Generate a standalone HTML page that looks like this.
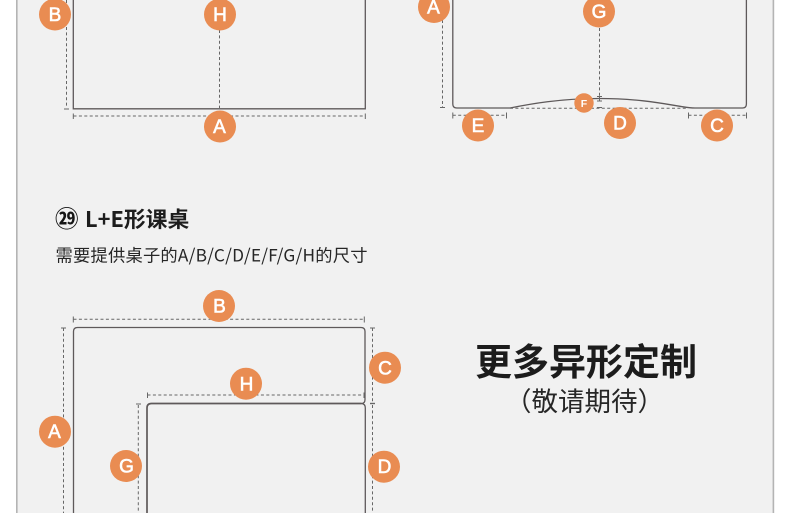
<!DOCTYPE html>
<html>
<head>
<meta charset="utf-8">
<style>
html,body{margin:0;padding:0;background:#fff}
svg{display:block}
.cjk{font-family:"Noto Sans CJK SC","Liberation Sans",sans-serif}
.d{fill:none;stroke:#666;stroke-width:1;stroke-dasharray:3 2.4}
.t{fill:none;stroke:#666;stroke-width:1}
.l{fill:none;stroke:#5e595a;stroke-width:1.3}
.c{fill:#e98c52}
.ltr{fill:#fff;stroke:#fff;stroke-width:.6;font:19px "Liberation Sans",sans-serif;text-anchor:middle}
</style>
</head>
<body>
<svg width="790" height="513" viewBox="0 0 790 513" xmlns="http://www.w3.org/2000/svg">
<rect width="790" height="513" fill="#fff"/>
<rect x="17" y="0" width="756" height="513" fill="#f1f1f1"/>
<rect x="16" y="0" width="1.6" height="513" fill="#b4b4b4"/>
<rect x="772.6" y="0" width="1.6" height="513" fill="#b4b4b4"/>

<!-- Diagram 1 -->
<path class="l" d="M73.3 0V108.8H365.3V0"/>
<path class="d" d="M66.5 0V108"/>
<path class="t" d="M64 109H69"/>
<path class="d" d="M219.5 30V108"/>
<path class="d" d="M73.5 116H365"/>
<path class="t" d="M73.3 113.5V119M365.3 113.5V119"/>
<circle class="c" cx="55" cy="14.5" r="16"/>
<circle class="c" cx="220" cy="14.5" r="16"/>
<circle class="c" cx="220" cy="126.5" r="16"/>
<text class="ltr" x="55" y="21">B</text>
<text class="ltr" x="220" y="21">H</text>
<text class="ltr" x="219.5" y="133">A</text>

<!-- Diagram 2 -->
<path class="l" d="M452.8 0V104Q452.8 108 456.8 108H510C530 104 560 98.5 599 98.5C640 98.5 665 104 683 106.8Q690 108 695 108H742.5Q746.4 108 746.4 104V0"/>
<path class="d" d="M442.5 20V107"/>
<path class="t" d="M440 107.5H445"/>
<path class="d" d="M599.5 28V96"/>
<path class="t" d="M597 96.5H602M597 101H602M597 107.5H602M599.5 96.5V101"/>
<path class="d" d="M510 108.3H688"/>
<path class="d" d="M452.8 115.3H506.5"/>
<path class="d" d="M688.5 115.3H746.5"/>
<path class="t" d="M452.8 112.5V118.5M506.5 112.5V118.5M688.5 112.5V118.5M746.5 112.5V118.5"/>
<circle class="c" cx="434" cy="7" r="16"/>
<circle class="c" cx="599" cy="11.5" r="16"/>
<circle class="c" cx="584" cy="103" r="9.7"/>
<circle class="c" cx="620" cy="123" r="16"/>
<circle class="c" cx="478" cy="125.5" r="16"/>
<circle class="c" cx="717" cy="125.5" r="16"/>
<text class="ltr" x="433.5" y="13.5">A</text>
<text class="ltr" x="599" y="18">G</text>
<text x="584" y="107" style="fill:#fff;font:bold 10.5px 'Liberation Sans',sans-serif;text-anchor:middle">F</text>
<text class="ltr" x="620" y="129.5">D</text>
<text class="ltr" x="478" y="132">E</text>
<text class="ltr" x="717" y="132">C</text>

<!-- Headings -->
<text class="cjk" x="55" y="227" style="font-size:23.5px;fill:#151515;font-weight:700">㉙</text>
<text class="cjk" x="85" y="227" style="font-size:21.8px;font-weight:700;fill:#1d1d1d">L+E形课桌</text>
<text class="cjk" x="55.5" y="261.5" style="font-size:17.3px;fill:#262626" textLength="312" lengthAdjust="spacing">需要提供桌子的A/B/C/D/E/F/G/H的尺寸</text>

<!-- Diagram 3 -->
<path class="l" d="M73.5 513V331.5Q73.5 327.5 77.5 327.5H361Q365 327.5 365 331.5V399.5Q365 403.5 361.5 403.5"/>
<path class="l" style="stroke-width:1.7" d="M361.5 403.5H151.5Q147 403.5 147 408V513"/>
<path class="l" d="M361.5 403.5Q365.3 403.8 365.3 408V513"/>
<path class="d" d="M73.5 319.3H364"/>
<path class="t" d="M73.3 316.5V322.5M364.3 316.5V322.5"/>
<path class="d" d="M63.5 328V513"/>
<path class="t" d="M61 328H66"/>
<path class="d" d="M372.5 328V402"/>
<path class="t" d="M370 328H375"/>
<path class="t" d="M370 403.5H375" style="stroke-width:1.4"/>
<path class="d" d="M372.5 405V513"/>
<path class="d" d="M147.5 395H364"/>
<path class="t" d="M147.5 392.5V398M364 392.5V398"/>
<path class="d" d="M138.3 405V513"/>
<path class="t" d="M136 404H141"/>
<circle class="c" cx="219" cy="306" r="16"/>
<circle class="c" cx="385" cy="367.7" r="16"/>
<circle class="c" cx="246" cy="383.7" r="16"/>
<circle class="c" cx="55" cy="431.7" r="16"/>
<circle class="c" cx="126" cy="466" r="16"/>
<circle class="c" cx="384" cy="466.7" r="16"/>
<text class="ltr" x="219.5" y="312.5">B</text>
<text class="ltr" x="385" y="374.5">C</text>
<text class="ltr" x="246.5" y="390.5">H</text>
<text class="ltr" x="54.5" y="438">A</text>
<text class="ltr" x="126.5" y="472.5">G</text>
<text class="ltr" x="384.5" y="473">D</text>

<!-- Right text -->
<text class="cjk" x="586" y="375" style="font-size:37px;font-weight:700;fill:#1c1c1c;text-anchor:middle">更多异形定制</text>
<text class="cjk" x="584.5" y="411" style="font-size:26.5px;fill:#262626;text-anchor:middle">（敬请期待）</text>
</svg>
</body>
</html>
